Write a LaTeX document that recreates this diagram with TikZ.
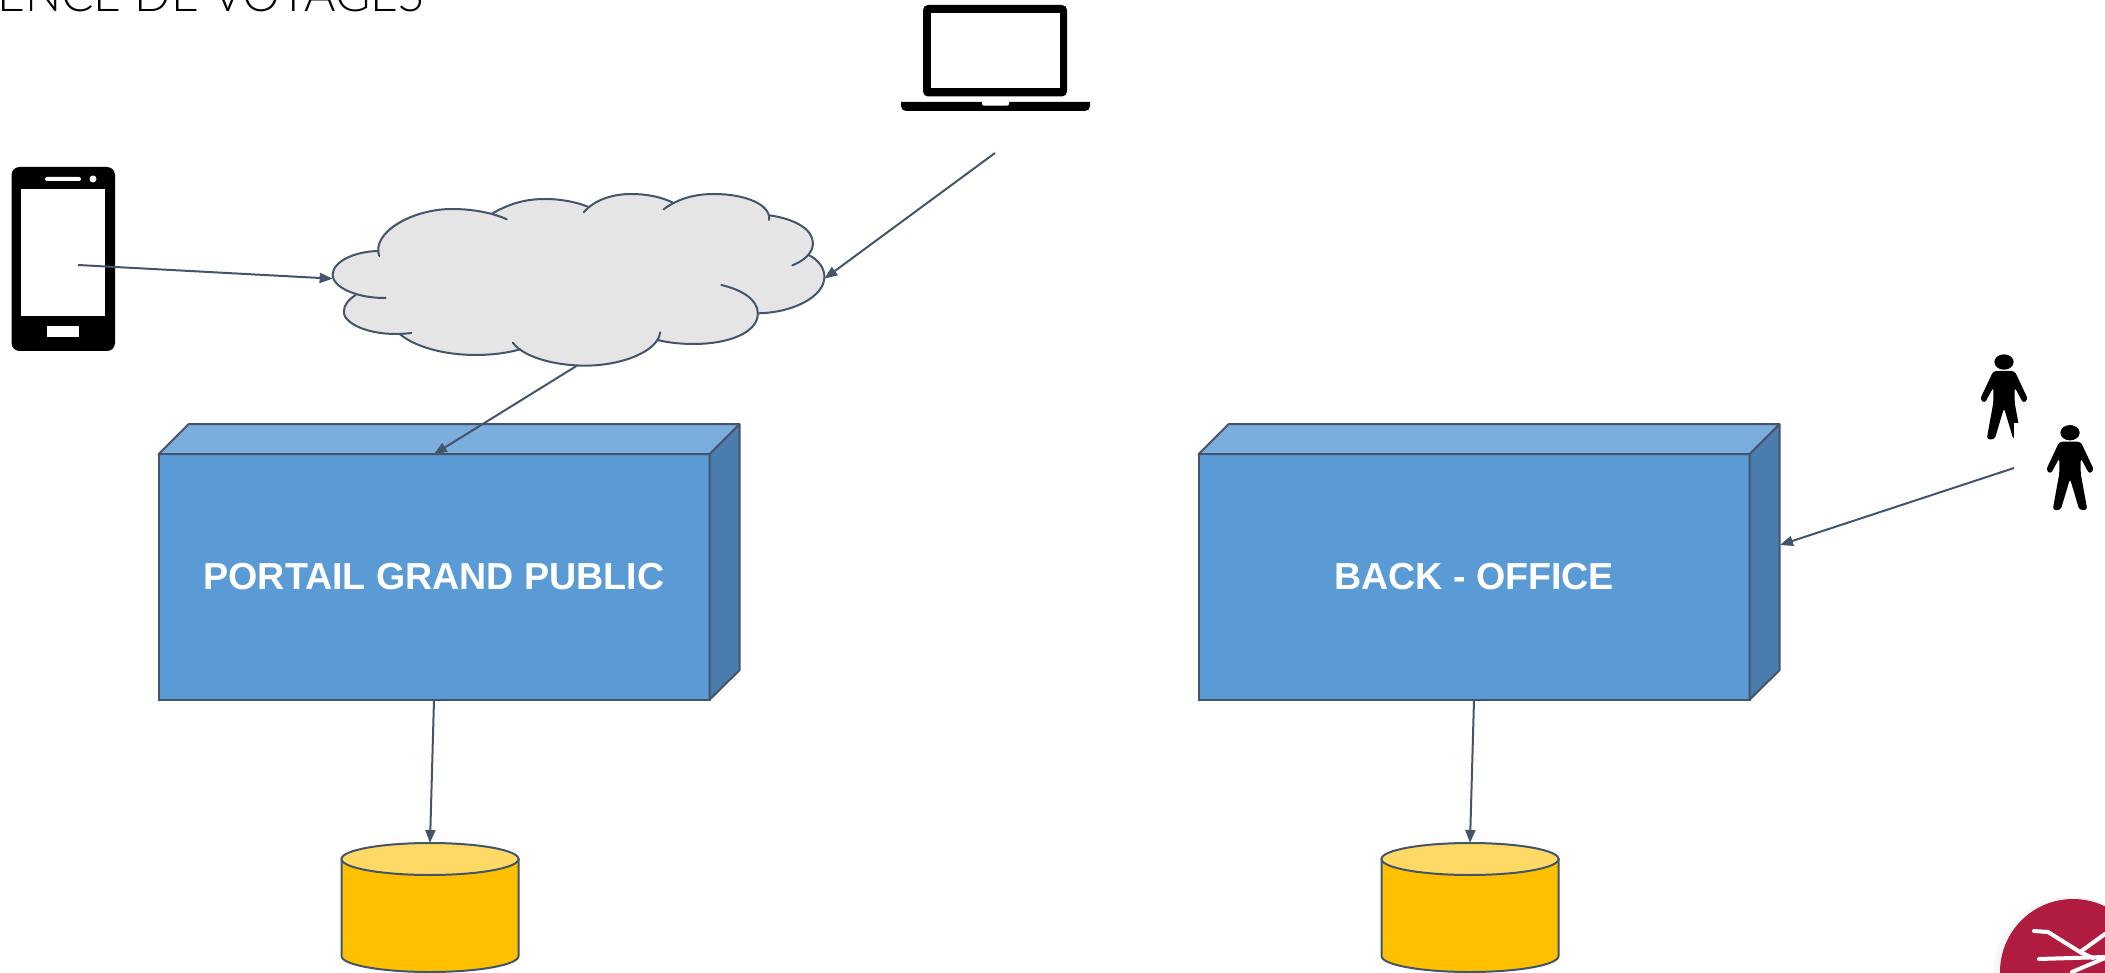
\documentclass[tikz,border=0pt]{standalone}
\usepackage{fontspec}
\setmainfont{Liberation Sans}
\newfontfamily\titlefont{Lato Light}
\usetikzlibrary{arrows.meta}
\definecolor{linecol}{HTML}{44546A}
\definecolor{frontcol}{HTML}{5B9BD5}
\definecolor{topcol}{HTML}{7CAEDD}
\definecolor{sidecol}{HTML}{4A7CAE}
\definecolor{cloudcol}{HTML}{E5E5E5}
\definecolor{logocol}{HTML}{B01C3F}
\definecolor{dbbody}{HTML}{FFC000}
\definecolor{dbtop}{HTML}{FFD966}
\tikzset{
  frontbox/.style={draw=linecol,line width=1pt,fill=frontcol,text=white,font=\fontsize{18.8}{22}\selectfont\bfseries,minimum width=275.5pt,minimum height=122.8pt,inner sep=0pt,outer sep=0pt},
  facebox/.style={draw=linecol,line width=1pt,line join=round},
  dbnode/.style={minimum width=88.5pt,minimum height=64.5pt,inner sep=0pt,outer sep=0pt},
  dbface/.style={draw=linecol,line width=1pt},
  flow/.style={draw=linecol,line width=1pt,-{Triangle[length=6.5pt,width=5pt]}},
  lobe/.style={draw=linecol,line width=1pt,line cap=round}
}
\newcommand{\personfig}[2]{
  \begin{scope}[shift={(#1,#2)},scale=0.3333]
    \fill[black] (0,0) ellipse (29 and 23);
    \fill[black,rounded corners=1.5pt] (-32,27) -- (32,27) -- (72,112) -- (58,124) -- (32,76) -- (32,122) -- (52,232) -- (28,232) -- (0,138) -- (-28,232) -- (-52,232) -- (-32,122) -- (-32,76) -- (-58,124) -- (-72,112) -- cycle;
  \end{scope}
}
\newcommand{\dbfig}[2]{
  \node[dbnode] (#1) at (#2,907.5) {};
  \begin{scope}[shift={(#2,907.5)}]
    \draw[dbface,fill=dbbody] (-88.5,-48.5) -- (-88.5,48.5) arc[start angle=180,end angle=0,x radius=88.5,y radius=16] -- (88.5,-48.5) -- cycle;
    \draw[dbface,fill=dbtop] (0,-48.5) ellipse (88.5 and 16);
  \end{scope}
}
\begin{document}
\begin{tikzpicture}[x=0.5pt,y=-0.5pt]
  \useasboundingbox (0,0) rectangle (2105,973);
  \clip (0,0) rectangle (2105,973);

  \node[anchor=base west,inner sep=0pt] (title) at (-3,12) {\titlefont\fontsize{24}{28}\selectfont ENCE DE VOYAGES};

  % phone
  \fill[black,rounded corners=4pt] (11.5,167) rectangle (115,351);
  \fill[white] (21,189) rectangle (105,316);
  \fill[white,rounded corners=1pt] (45,177) rectangle (81,181);
  \fill[white] (93,179) circle (3.5);
  \fill[white] (47,326) rectangle (79,337);
  \coordinate (phone) at (78,265);

  % laptop
  \fill[black,rounded corners=2.5pt] (923,5) rectangle (1067,96.5);
  \fill[white] (931,13) rectangle (1060,88);
  \fill[black] (901,102) -- (1090,102) {[rounded corners=2.5pt] -- (1090,111) -- (901,111)} -- cycle;
  \fill[white,rounded corners=1pt] (982,100) rectangle (1009,105.7);
  \coordinate (laptop) at (995,153);

  % cloud
  \begin{scope}[shift={(310,170)},xscale=0.338,yscale=0.3333]
    \fill[cloudcol] (200,243) .. controls (200,160) and (310,117) .. (420,117)
      .. controls (470,117) and (510,122) .. (540,130)
      .. controls (600,95) and (650,87) .. (695,87)
      .. controls (745,87) and (790,97) .. (822,110)
      .. controls (860,80) and (900,72) .. (950,72)
      .. controls (1000,72) and (1040,82) .. (1072,97)
      .. controls (1110,78) and (1150,72) .. (1195,72)
      .. controls (1280,72) and (1345,100) .. (1360,136)
      .. controls (1440,148) and (1488,180) .. (1488,220)
      .. controls (1488,232) and (1483,245) .. (1475,255)
      .. controls (1505,270) and (1522,295) .. (1522,320)
      .. controls (1522,380) and (1430,428) .. (1325,430)
      .. controls (1322,490) and (1235,522) .. (1135,522)
      .. controls (1095,522) and (1060,518) .. (1028,510)
      .. controls (1000,560) and (910,587) .. (815,587)
      .. controls (740,587) and (670,568) .. (622,538)
      .. controls (580,550) and (535,555) .. (490,555)
      .. controls (395,555) and (310,530) .. (265,492)
      .. controls (170,495) and (100,465) .. (100,425)
      .. controls (100,405) and (115,388) .. (135,375)
      .. controls (95,362) and (67,340) .. (67,315)
      .. controls (67,275) and (130,245) .. (200,243) -- cycle;
    \draw[lobe] (205,258) .. controls (180,190) and (300,117) .. (420,117) .. controls (480,117) and (540,128) .. (582,148);
    \draw[lobe] (540,130) .. controls (600,95) and (650,87) .. (695,87) .. controls (745,87) and (790,97) .. (822,110);
    \draw[lobe] (810,127) .. controls (840,90) and (895,72) .. (950,72) .. controls (1000,72) and (1040,82) .. (1072,97);
    \draw[lobe] (1046,118) .. controls (1090,85) and (1140,72) .. (1195,72) .. controls (1290,72) and (1365,105) .. (1358,150);
    \draw[lobe] (1360,136) .. controls (1440,148) and (1488,180) .. (1488,220) .. controls (1488,250) and (1460,273) .. (1427,286);
    \draw[lobe] (1475,255) .. controls (1505,270) and (1522,295) .. (1522,320) .. controls (1522,380) and (1430,428) .. (1325,430);
    \draw[lobe] (1217,345) .. controls (1280,360) and (1325,390) .. (1325,430) .. controls (1325,490) and (1235,522) .. (1135,522) .. controls (1095,522) and (1060,518) .. (1028,510);
    \draw[lobe] (1036,487) .. controls (1030,545) and (920,587) .. (815,587) .. controls (720,587) and (630,560) .. (600,518);
    \draw[lobe] (622,538) .. controls (580,550) and (535,555) .. (490,555) .. controls (395,555) and (310,530) .. (265,492);
    \draw[lobe] (300,489) .. controls (190,503) and (100,465) .. (100,425) .. controls (100,405) and (115,388) .. (135,375);
    \draw[lobe] (224,384) .. controls (135,385) and (67,350) .. (67,315) .. controls (67,275) and (130,245) .. (200,243);
    \coordinate (cloudw) at (67,326);
    \coordinate (cloude) at (1522,326);
    \coordinate (clouds) at (790,587);
  \end{scope}

  % boxes
  \node[frontbox] (portail) at (434,577) {PORTAIL GRAND PUBLIC};
  \draw[facebox,fill=topcol] (portail.north west) -- ++(30,-30) -- ++(551,0) -- (portail.north east) -- cycle;
  \draw[facebox,fill=sidecol] (portail.north east) -- ++(30,-30) -- ++(0,246) -- (portail.south east) -- cycle;

  \node[frontbox] (backoffice) at (1474,577) {BACK - OFFICE};
  \draw[facebox,fill=topcol] (backoffice.north west) -- ++(30,-30) -- ++(551,0) -- (backoffice.north east) -- cycle;
  \draw[facebox,fill=sidecol] (backoffice.north east) -- ++(30,-30) -- ++(0,246) -- (backoffice.south east) -- cycle;
  \coordinate (backside) at (1780,545);

  % databases
  \dbfig{dbportail}{430}
  \dbfig{dbback}{1470}

  % people
  \personfig{2004}{362}
  \fill[white] (2014,423) rectangle (2024,441);
  \personfig{2070}{432.7}
  \coordinate (people) at (2014,468);

  % logo
  \fill[black!3] (2071,973) circle (77);
  \fill[logocol] (2073,972) circle (73);
  \draw[white,line width=2pt,line cap=round,line join=round] (2034,931) -- (2048,932) -- (2080,952) -- (2105,934);
  \draw[white,line width=2pt,line cap=round] (2039,959) -- (2105,957);
  \draw[white,line width=2pt,line cap=round] (2080,952) -- (2093,958);
  \draw[white,line width=2pt,line cap=round] (2072,972) -- (2105,958);

  \draw[flow] (phone) -- (cloudw);
  \draw[flow] (laptop) -- (cloude);
  \draw[flow] (clouds) -- (portail.north);
  \draw[flow] (portail.south) -- (dbportail.north);
  \draw[flow] (backoffice.south) -- (dbback.north);
  \draw[flow] (people) -- (backside);
\end{tikzpicture}
\end{document}
